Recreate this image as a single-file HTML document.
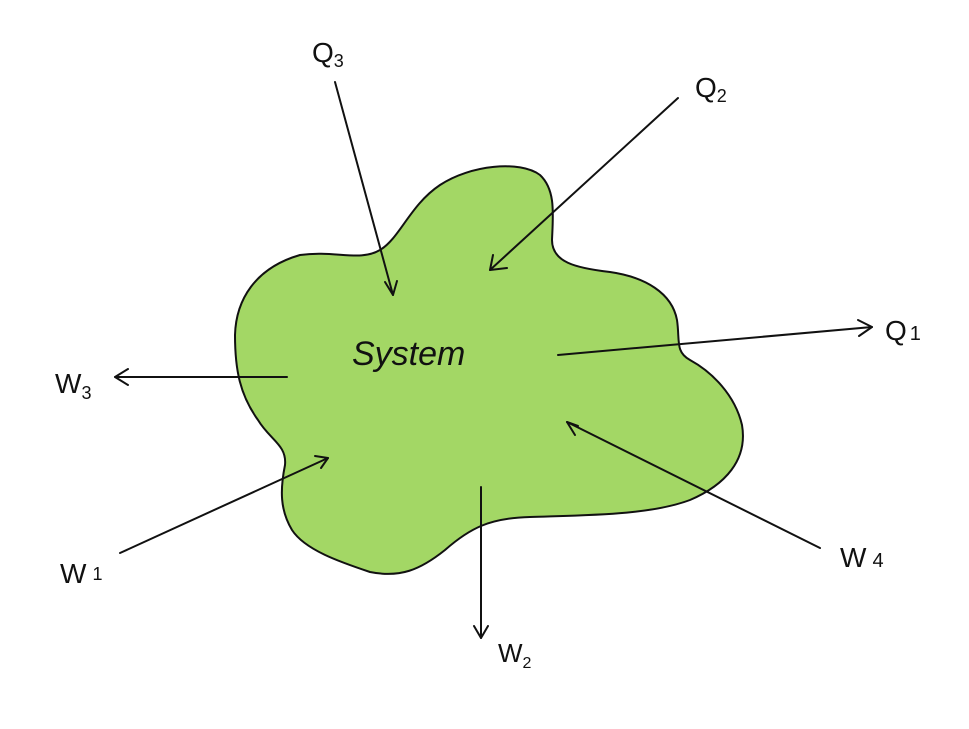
<!DOCTYPE html>
<html><head><meta charset="utf-8"><style>
html,body{margin:0;padding:0;background:#fff;}
svg{display:block;}
text{font-family:"Liberation Sans",sans-serif;fill:#111;}
</style></head><body>
<svg width="969" height="729" viewBox="0 0 969 729" xmlns="http://www.w3.org/2000/svg">
<path d="M300,255 C335,250 360,262 380,250 C400,238 410,205 440,185 C470,165 520,160 540,175 C556,190 553,215 552,240 C552,262 575,268 610,272 C645,277 672,293 677,320 C680,340 675,352 690,360 C712,372 735,395 742,425 C748,460 725,485 690,500 C650,515 590,515 530,517 C490,518 470,528 445,550 C420,570 400,578 370,572 C340,562 305,550 292,530 C280,510 280,490 285,465 C287,445 270,440 258,420 C240,395 235,370 235,335 C236,300 255,268 300,255 Z" fill="#a3d765" stroke="#111" stroke-width="2"/>
<g stroke="#111" stroke-width="2" fill="none" stroke-linecap="round" stroke-linejoin="round">
<line x1="335" y1="82" x2="393" y2="295"/><polyline points="385,282 393,295 397,281"/>
<line x1="678" y1="98" x2="490" y2="270"/><polyline points="493,255 490,270 507,268"/>
<line x1="558" y1="355" x2="872" y2="327"/><polyline points="858,320 872,327 859,336"/>
<line x1="287" y1="377" x2="115" y2="377"/><polyline points="128,369 115,377 128,385"/>
<line x1="120" y1="553" x2="328" y2="458"/><polyline points="315,456 328,458 321,468"/>
<line x1="481" y1="487" x2="481" y2="638"/><polyline points="474,626 481,638 488,626"/>
<line x1="820" y1="548" x2="567" y2="422"/><polyline points="578,426 567,422 575,435"/>
</g>
<text x="312" y="62" font-size="28">Q<tspan font-size="18" dy="5">3</tspan></text>
<text x="695" y="97" font-size="28">Q<tspan font-size="18" dy="5">2</tspan></text>
<text x="885" y="340" font-size="28">Q<tspan font-size="20" dx="3">1</tspan></text>
<text x="55" y="393" font-size="28">W<tspan font-size="18" dy="6">3</tspan></text>
<text x="60" y="583" font-size="28">W<tspan font-size="18" dy="-3" dx="6">1</tspan></text>
<text x="498" y="662" font-size="26">W<tspan font-size="16" dy="6">2</tspan></text>
<text x="840" y="567" font-size="28">W<tspan font-size="20" dx="6">4</tspan></text>
<text x="352" y="365" font-size="34" font-family="Liberation Serif" font-style="italic">System</text>
</svg>
</body></html>
